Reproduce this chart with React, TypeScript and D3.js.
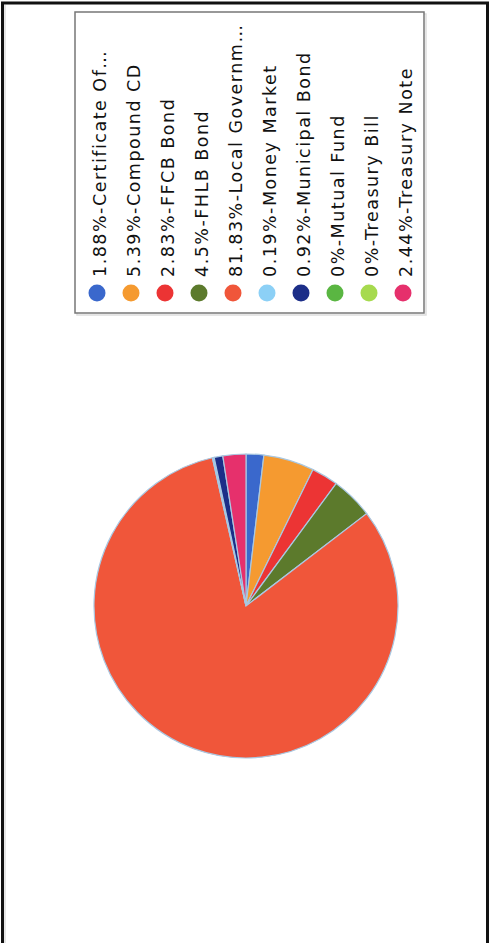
import React from "react";
import * as d3 from "d3";

const categories = [
  "Certificate Of…",
  "Compound CD",
  "FFCB Bond",
  "FHLB Bond",
  "Local Governm…",
  "Money Market",
  "Municipal Bond",
  "Mutual Fund",
  "Treasury Bill",
  "Treasury Note",
];
const percents = [1.88, 5.39, 2.83, 4.5, 81.83, 0.19, 0.92, 0, 0, 2.44];
const colors = [
  "#3a68cc",
  "#f59a30",
  "#ec3434",
  "#5c7a2c",
  "#f0563a",
  "#8cd0f6",
  "#1c2e88",
  "#5ab642",
  "#a6da4e",
  "#e6306c",
];

export default function App() {
  const W = 490;
  const H = 943;
  const cx = 246;
  const cy = 606;
  const r = 152;

  const data = categories.map((c, i) => ({ name: c, value: percents[i], color: colors[i] }));
  const pie = d3
    .pie<any>()
    .sort(null)
    .value((d) => d.value)
    .startAngle(0)
    .endAngle(2 * Math.PI);
  const arcs = pie(data);
  const arc = d3.arc<any>().innerRadius(0).outerRadius(r);

  const xLeg = d3.scalePoint<string>().domain(categories).range([97, 403]);

  return (
    <svg
      width={W}
      height={H}
      style={{ position: "absolute", left: 0, top: 0, background: "#fff" }}
    >
      <rect x={0} y={0} width={W} height={H} fill="#fff" />
      <rect x={2.5} y={3} width={485} height={980} fill="none" stroke="#111" strokeWidth={3} />
      <line x1={5} y1={5} x2={5} y2={943} stroke="#ccc" strokeWidth={1} />

      {/* legend box */}
      <rect x={77} y={14} width={349} height={301} fill="none" stroke="#ddd" strokeWidth={1.5} />
      <rect x={75} y={12} width={349} height={301} fill="#fff" stroke="#777" strokeWidth={1.5} />
      {data.map((d) => {
        const x = xLeg(d.name)!;
        return (
          <g key={d.name}>
            <circle cx={x} cy={293} r={8.5} fill={d.color} />
            <text
              transform={`translate(${x + 9},277) rotate(-90)`}
              fontFamily="DejaVu Sans, Verdana, sans-serif"
              fontSize={17.5}
              letterSpacing={1.5}
              fill="#111"
            >
              {`${d.value}%-${d.name}`}
            </text>
          </g>
        );
      })}

      {/* pie */}
      <g transform={`translate(${cx},${cy})`}>
        {arcs.map((a, i) => (
          <path
            key={i}
            d={arc(a) || ""}
            fill={a.data.color}
            stroke="#a9c8e2"
            strokeWidth={a.data.value > 0 ? 1.2 : 0}
          />
        ))}
      </g>
    </svg>
  );
}
